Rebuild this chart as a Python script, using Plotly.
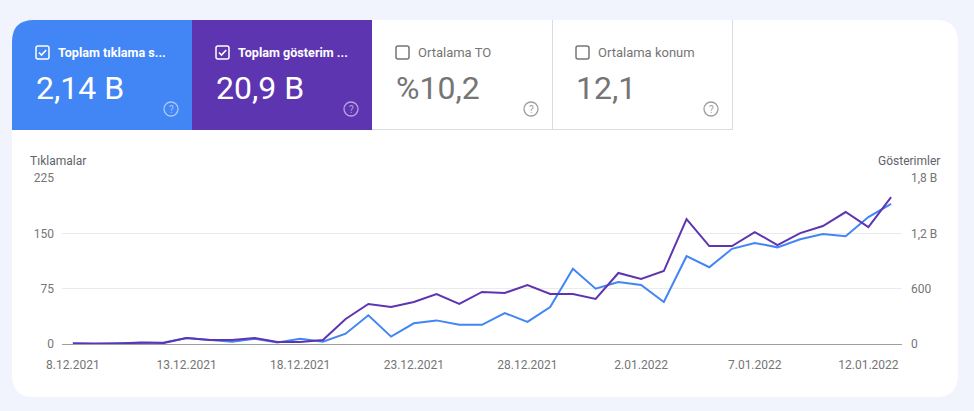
import plotly.graph_objects as go
import pandas as pd

W, H = 974, 411

# ---- data ----
dates = pd.date_range("2021-12-08", "2022-01-13", freq="D")
clicks = [1, 0, 1, 1, 2, 8, 6, 3, 7, 2, 7, 3, 14, 39, 10, 28, 32, 26, 26, 42,
          30, 50, 102, 75, 84, 80, 57, 119, 104, 129, 137, 131, 142, 149, 146, 172, 190]
impressions = [5, 3, 5, 15, 11, 65, 43, 43, 65, 22, 22, 43, 271, 434, 401, 455, 542, 434, 564, 553,
               640, 542, 542, 488, 770, 705, 791, 1355, 1062, 1062, 1214, 1073, 1203, 1279, 1431, 1268, 1593]
x_tick_vals = ["2021-12-08", "2021-12-13", "2021-12-18", "2021-12-23", "2021-12-28",
               "2022-01-02", "2022-01-07", "2022-01-12"]
x_tick_text = ["8.12.2021", "13.12.2021", "18.12.2021", "23.12.2021", "28.12.2021",
               "2.01.2022", "7.01.2022", "12.01.2022"]
left_ticks = [0, 75, 150, 225]
left_tick_text = ["0", "75", "150", "225"]
right_ticks = [0, 600, 1200, 1800]
right_tick_text = ["0", "600", "1,2 B", "1,8 B"]
card_labels = ["Toplam tıklama s...", "Toplam gösterim ...", "Ortalama TO", "Ortalama konum"]
card_values = ["2,14 B", "20,9 B", "%10,2", "12,1"]
card_checked = [True, True, False, False]

BLUE = "#4285f4"
PURPLE = "#5e35b1"
GRAY_TXT = "#757575"
BG = "#f1f4fc"
FONT = "Roboto"


def px(x):
    return x / W


def py(y):
    return 1 - y / H


fig = go.Figure()
fig.add_trace(go.Scatter(x=dates, y=impressions, yaxis="y2", mode="lines",
                         line=dict(color=PURPLE, width=2), name="Gösterimler", showlegend=False))
fig.add_trace(go.Scatter(x=dates, y=clicks, yaxis="y", mode="lines",
                         line=dict(color=BLUE, width=2), name="Tıklamalar", showlegend=False))

shapes = []
annotations = []


def P(x, y):
    return f"{px(x):.6f},{py(y):.6f}"


# white panel with rounded corners
L, T, R, B, r = 12, 20, 958, 397, 22
panel = (f"M {P(L + r, T)} L {P(R - r, T)} Q {P(R, T)} {P(R, T + r)} "
         f"L {P(R, B - r)} Q {P(R, B)} {P(R - r, B)} L {P(L + r, B)} Q {P(L, B)} {P(L, B - r)} "
         f"L {P(L, T + r)} Q {P(L, T)} {P(L + r, T)} Z")
shapes.append(dict(type="path", path=panel, xref="paper", yref="paper", layer="below",
                   fillcolor="white", line=dict(width=0)))

# blue card (rounded top-left)
cb = (f"M {P(L + r, T)} L {P(192, T)} L {P(192, 130)} L {P(L, 130)} L {P(L, T + r)} "
      f"Q {P(L, T)} {P(L + r, T)} Z")
shapes.append(dict(type="path", path=cb, xref="paper", yref="paper", layer="below",
                   fillcolor=BLUE, line=dict(width=0)))
# purple card
shapes.append(dict(type="rect", x0=px(192), x1=px(372), y0=py(130), y1=py(T), xref="paper", yref="paper",
                   layer="below", fillcolor=PURPLE, line=dict(width=0)))
# borders of white cards
shapes.append(dict(type="line", x0=px(372), x1=px(732.5), y0=py(129.5), y1=py(129.5), xref="paper",
                   yref="paper", line=dict(color="#dadce0", width=1)))
for xv in (552, 732):
    shapes.append(dict(type="line", x0=px(xv + 0.5), x1=px(xv + 0.5), y0=py(T), y1=py(130), xref="paper",
                       yref="paper", line=dict(color="#dadce0", width=1)))

card_x = [36, 216, 396, 576]
help_x = [171, 351, 531, 711]
for i in range(4):
    cx = card_x[i]
    checked = card_checked[i]
    col = "white" if checked else GRAY_TXT
    # checkbox
    x0, y0, s = cx, 46, 13
    cr = 2
    box = (f"M {P(x0 + cr, y0)} L {P(x0 + s - cr, y0)} Q {P(x0 + s, y0)} {P(x0 + s, y0 + cr)} "
           f"L {P(x0 + s, y0 + s - cr)} Q {P(x0 + s, y0 + s)} {P(x0 + s - cr, y0 + s)} "
           f"L {P(x0 + cr, y0 + s)} Q {P(x0, y0 + s)} {P(x0, y0 + s - cr)} "
           f"L {P(x0, y0 + cr)} Q {P(x0, y0)} {P(x0 + cr, y0)} Z")
    shapes.append(dict(type="path", path=box, xref="paper", yref="paper",
                       line=dict(color=col, width=1.5)))
    if checked:
        chk = f"M {P(x0 + 3, y0 + 6.5)} L {P(x0 + 5.5, y0 + 9)} L {P(x0 + 10.2, y0 + 4)}"
        shapes.append(dict(type="path", path=chk, xref="paper", yref="paper",
                           line=dict(color="white", width=1.6)))
    # label
    lab = f"<b>{card_labels[i]}</b>" if checked else card_labels[i]
    annotations.append(dict(x=px(cx + 20), y=py(52.5), xref="paper", yref="paper", text=lab,
                            showarrow=False, xanchor="left", yanchor="middle",
                            font=dict(family=FONT, size=12.6 if checked else 13, color=col)))
    # value
    annotations.append(dict(x=px(cx - 2), y=py(87.5), xref="paper", yref="paper", text=card_values[i],
                            showarrow=False, xanchor="left", yanchor="middle",
                            font=dict(family=FONT, size=32, color="white" if checked else GRAY_TXT)))
    # help icon
    hc = "rgba(255,255,255,0.55)" if checked else "#9e9e9e"
    hx = help_x[i]
    shapes.append(dict(type="circle", x0=px(hx - 7), x1=px(hx + 7), y0=py(102), y1=py(116),
                       xref="paper", yref="paper", line=dict(color=hc, width=1.3)))
    annotations.append(dict(x=px(hx), y=py(109), xref="paper", yref="paper", text="?",
                            showarrow=False, xanchor="center", yanchor="middle",
                            font=dict(family=FONT, size=10, color=hc)))

# axis titles
annotations.append(dict(x=px(28), y=py(161), xref="paper", yref="paper", text="Tıklamalar",
                        showarrow=False, xanchor="left", yanchor="middle",
                        font=dict(family=FONT, size=12, color="#5f6368")))
annotations.append(dict(x=px(942), y=py(161), xref="paper", yref="paper", text="Gösterimler",
                        showarrow=False, xanchor="right", yanchor="middle",
                        font=dict(family=FONT, size=12, color="#5f6368")))

fig.update_layout(
    width=W, height=H,
    margin=dict(l=0, r=0, t=0, b=0, autoexpand=False),
    paper_bgcolor=BG, plot_bgcolor="rgba(0,0,0,0)",
    shapes=shapes, annotations=annotations,
    font=dict(family=FONT, size=12, color=GRAY_TXT),
    xaxis=dict(domain=[px(62), px(902)], type="date", automargin=False,
               range=["2021-12-07 12:30", "2022-01-13 11:30"],
               tickvals=x_tick_vals, ticktext=x_tick_text, showgrid=False, zeroline=False,
               showline=False, ticks="", tickfont=dict(size=12, color=GRAY_TXT), ticklabelstandoff=12),
    yaxis=dict(domain=[1 - 344 / H, 1 - 178 / H], range=[0, 225], tickvals=left_ticks,
               ticktext=left_tick_text, showgrid=True, gridcolor="#ebebeb", gridwidth=1,
               zeroline=True, zerolinecolor="#9e9e9e", zerolinewidth=1.2, showline=False,
               automargin=False,
               ticks="", tickfont=dict(size=12, color=GRAY_TXT), ticklabelstandoff=7),
    yaxis2=dict(domain=[1 - 344 / H, 1 - 178 / H], range=[0, 1800], overlaying="y", side="right",
                anchor="x", tickvals=right_ticks, ticktext=right_tick_text, showgrid=False,
                automargin=False,
                zeroline=False, showline=False, ticks="", tickfont=dict(size=12, color=GRAY_TXT),
                ticklabelstandoff=8),
)

fig.write_html("out.html", config={"displayModeBar": False},
               post_script="document.body.style.margin='0';document.body.style.overflow='hidden';")
